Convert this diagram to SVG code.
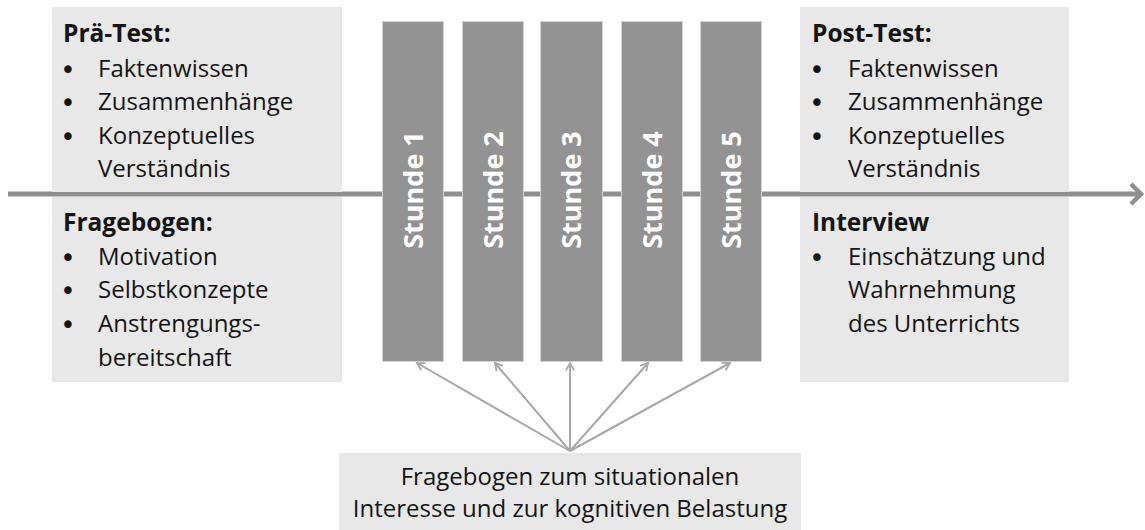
<svg xmlns="http://www.w3.org/2000/svg" width="1145" height="530" viewBox="0 0 1145 530">
<style>
.box{fill:#e8e8e8}
.bar{fill:#939393;stroke:#d4d4d4;stroke-width:1}
.t{font-family:"Open Sans","Noto Sans",sans-serif;font-size:24px;fill:#141414}
.h{font-weight:bold;font-size:24.5px}
.bul{text-anchor:middle;font-size:26px;font-family:"DejaVu Sans",sans-serif}
.s{font-family:"Open Sans","Noto Sans",sans-serif;font-size:27px;font-weight:bold;fill:#ffffff;text-anchor:middle}
.b{font-family:"Open Sans","Noto Sans",sans-serif;font-size:24px;fill:#141414;text-anchor:middle}
.axis{stroke:#8f8f8f;stroke-width:5;fill:none}
.con{stroke:#a8a8a8;stroke-width:2;fill:none}
</style>
<defs>
<marker id="ah" viewBox="0 0 12 12" refX="10" refY="6" markerWidth="11" markerHeight="11" markerUnits="userSpaceOnUse" orient="auto">
<path d="M2,1.5 L10,6 L2,10.5" fill="none" stroke="#a8a8a8" stroke-width="2"/>
</marker>
</defs>
<g id="axis">
<line class="axis" x1="8" y1="194" x2="1141" y2="194"/>
<path d="M1131,184 L1141,194 L1131,204" fill="none" stroke="#8f8f8f" stroke-width="4.5"/>
</g>
<g id="pre-test">
<rect class="box" x="52" y="7" width="290" height="185"/>
<text class="t h" x="63" y="42">Prä-Test:</text>
<text class="t bul" x="68" y="79">•</text><text class="t" x="98" y="77">Faktenwissen</text>
<text class="t bul" x="68" y="112">•</text><text class="t" x="98" y="110">Zusammenhänge</text>
<text class="t bul" x="68" y="146">•</text><text class="t" x="98" y="144">Konzeptuelles</text>
<text class="t" x="98" y="177">Verständnis</text>
</g>
<g id="fragebogen">
<rect class="box" x="52" y="197" width="290" height="185"/>
<text class="t h" x="63" y="231">Fragebogen:</text>
<text class="t bul" x="68" y="267">•</text><text class="t" x="98" y="265">Motivation</text>
<text class="t bul" x="68" y="300">•</text><text class="t" x="98" y="298">Selbstkonzepte</text>
<text class="t bul" x="68" y="334">•</text><text class="t" x="98" y="332">Anstrengungs-</text>
<text class="t" x="98" y="366">bereitschaft</text>
</g>
<g id="post-test">
<rect class="box" x="800" y="7" width="269" height="185"/>
<text class="t h" x="812" y="42">Post-Test:</text>
<text class="t bul" x="817" y="79">•</text><text class="t" x="848" y="77">Faktenwissen</text>
<text class="t bul" x="817" y="112">•</text><text class="t" x="848" y="110">Zusammenhänge</text>
<text class="t bul" x="817" y="146">•</text><text class="t" x="848" y="144">Konzeptuelles</text>
<text class="t" x="848" y="177">Verständnis</text>
</g>
<g id="interview">
<rect class="box" x="800" y="197" width="269" height="185"/>
<text class="t h" x="812" y="231">Interview</text>
<text class="t bul" x="817" y="267">•</text><text class="t" x="848" y="265">Einschätzung und</text>
<text class="t" x="848" y="298">Wahrnehmung</text>
<text class="t" x="848" y="332">des Unterrichts</text>
</g>
<g id="stunde1">
<rect class="bar" x="382.5" y="21.5" width="61" height="340"/>
<text class="s" transform="translate(423,190) rotate(-90)">Stunde 1</text>
</g>
<g id="stunde2">
<rect class="bar" x="462.5" y="21.5" width="61" height="340"/>
<text class="s" transform="translate(503,190) rotate(-90)">Stunde 2</text>
</g>
<g id="stunde3">
<rect class="bar" x="540.5" y="21.5" width="62" height="340"/>
<text class="s" transform="translate(581,190) rotate(-90)">Stunde 3</text>
</g>
<g id="stunde4">
<rect class="bar" x="621.5" y="21.5" width="61" height="340"/>
<text class="s" transform="translate(662,190) rotate(-90)">Stunde 4</text>
</g>
<g id="stunde5">
<rect class="bar" x="700.5" y="21.5" width="61" height="340"/>
<text class="s" transform="translate(741,190) rotate(-90)">Stunde 5</text>
</g>
<g id="fragebogen-situational">
<rect class="box" x="339" y="453" width="462" height="77"/>
<text class="b" x="570" y="485">Fragebogen zum situationalen</text>
<text class="b" x="570" y="517">Interesse und zur kognitiven Belastung</text>
</g>
<g id="connectors">
<line class="con" x1="570" y1="451" x2="417" y2="363" marker-end="url(#ah)"/>
<line class="con" x1="570" y1="451" x2="495" y2="363" marker-end="url(#ah)"/>
<line class="con" x1="570" y1="451" x2="570" y2="363" marker-end="url(#ah)"/>
<line class="con" x1="570" y1="451" x2="648" y2="363" marker-end="url(#ah)"/>
<line class="con" x1="570" y1="451" x2="730" y2="363" marker-end="url(#ah)"/>
</g>
</svg>
